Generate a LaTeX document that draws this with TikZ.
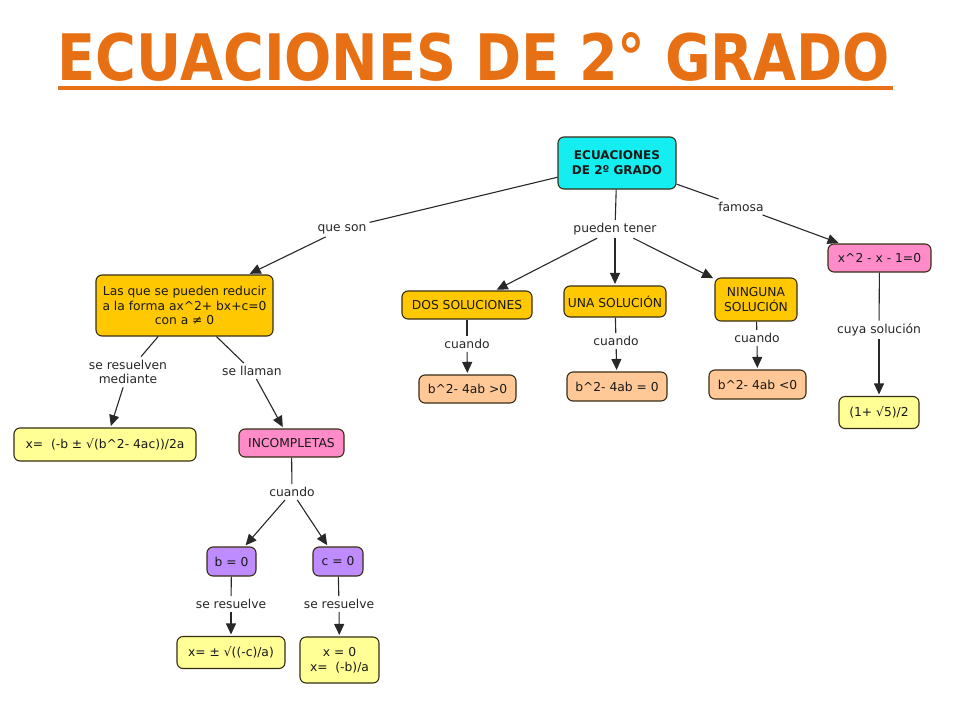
\documentclass[tikz,border=0pt]{standalone}
\usepackage{fontspec}
\setmainfont{DejaVu Sans}
\usetikzlibrary{arrows.meta}
\definecolor{ttl}{RGB}{232,112,20}
\definecolor{cyanbox}{RGB}{20,238,240}
\definecolor{goldbox}{RGB}{255,200,0}
\definecolor{yelbox}{RGB}{255,255,150}
\definecolor{pinkbox}{RGB}{255,140,200}
\definecolor{purpbox}{RGB}{190,140,255}
\definecolor{peachbox}{RGB}{255,200,150}
\definecolor{edgeclr}{RGB}{55,45,20}
\definecolor{lineclr}{RGB}{40,40,40}
\tikzset{
  box/.style={draw=edgeclr, line width=1.1pt, rounded corners=6pt, align=center,
    inner sep=0pt, font=\fontsize{12.3}{14.8}\selectfont, text=black!90},
  lbl/.style={inner sep=3pt, align=center, font=\fontsize{12.3}{14.8}\selectfont, text=black!85},
  ln/.style={draw=lineclr, line width=1.1pt},
  arr/.style={ln, -{Triangle[length=11pt,width=10pt]}, shorten >=1.5pt},
}
\begin{document}
\begin{tikzpicture}[x=1pt,y=-1pt]
\useasboundingbox (0,0) rectangle (960,720);
% title
\node[inner sep=0pt, text=ttl] (title) at (474,57)
  {\resizebox{832pt}{48pt}{\bfseries ECUACIONES DE 2° GRADO}};
\fill[ttl] (58,86) rectangle (893,90);
% boxes
\node[box, fill=cyanbox, minimum width=118pt, minimum height=52pt,
  font=\fontsize{12}{15}\selectfont\bfseries] (root) at (617,163) {ECUACIONES\\DE 2º GRADO};
\node[box, fill=goldbox, minimum width=177pt, minimum height=61pt] (las) at (184.5,305.5)
  {Las que se pueden reducir\\a la forma ax\^{}2+ bx+c=0\\con a ≠ 0};
\node[box, fill=yelbox, minimum width=182pt, minimum height=33pt] (xeq) at (105,444.5)
  {x=\ \ (-b ± √(b\^{}2- 4ac))/2a};
\node[box, fill=pinkbox, minimum width=105pt, minimum height=28pt] (inc) at (291.5,443) {INCOMPLETAS};
\node[box, fill=purpbox, minimum width=49pt, minimum height=29pt] (b0) at (231.5,561.5) {b = 0};
\node[box, fill=purpbox, minimum width=50pt, minimum height=29pt] (c0) at (338,561.5) {c = 0};
\node[box, fill=yelbox, minimum width=108pt, minimum height=32pt] (xpm) at (231,652.5) {x= ± √((-c)/a)};
\node[box, fill=yelbox, minimum width=79pt, minimum height=46pt] (x0) at (339.5,660) {x = 0\\x=\ \ (-b)/a};
\node[box, fill=goldbox, minimum width=130pt, minimum height=28pt] (dos) at (467,305) {DOS SOLUCIONES};
\node[box, fill=goldbox, minimum width=102pt, minimum height=31pt] (una) at (615,301.5) {UNA SOLUCIÓN};
\node[box, fill=goldbox, minimum width=82pt, minimum height=43pt] (nin) at (756,299.5) {NINGUNA\\SOLUCIÓN};
\node[box, fill=peachbox, minimum width=97pt, minimum height=28pt] (bg) at (467.5,389) {b\^{}2- 4ab >0};
\node[box, fill=peachbox, minimum width=100pt, minimum height=29pt] (be) at (617,386.5) {b\^{}2- 4ab = 0};
\node[box, fill=peachbox, minimum width=97pt, minimum height=29pt] (bl) at (757.5,384.5) {b\^{}2- 4ab <0};
\node[box, fill=pinkbox, minimum width=103pt, minimum height=28pt] (xsq) at (879.5,258) {x\^{}2 - x - 1=0};
\node[box, fill=yelbox, minimum width=80pt, minimum height=32pt] (phi) at (879,412.5) {(1+ √5)/2};
% labels
\node[lbl] (qs) at (342,229) {que son};
\node[lbl] (srm) at (128,372) {se resuelven\\mediante};
\node[lbl] (sll) at (252,371) {se llaman};
\node[lbl] (cu0) at (292,492) {cuando};
\node[lbl] (sr1) at (231,604) {se resuelve};
\node[lbl] (sr2) at (339,604) {se resuelve};
\node[lbl] (pt) at (615,229) {pueden tener};
\node[lbl] (cu1) at (467,344) {cuando};
\node[lbl] (cu2) at (616,341) {cuando};
\node[lbl] (cu3) at (757,338) {cuando};
\node[lbl] (fam) at (741,207) {famosa};
\node[lbl] (cs) at (879,330) {cuya solución};
% connectors
\draw[ln] (root) -- (qs);  \draw[arr] (qs) -- (las);
\draw[ln] (las) -- (srm);  \draw[arr] (srm) -- (xeq);
\draw[ln] (las) -- (sll);  \draw[arr] (sll) -- (inc);
\draw[ln] (inc) -- (cu0);  \draw[arr] (cu0) -- (b0);  \draw[arr] (cu0) -- (c0);
\draw[ln] (b0) -- (sr1);   \draw[arr] (sr1) -- (xpm);
\draw[ln] (c0) -- (sr2);   \draw[arr] (sr2) -- (x0);
\draw[ln] (root) -- (pt);
\draw[arr] (pt) -- (dos);  \draw[arr] (pt) -- (una);  \draw[arr] (pt) -- (nin);
\draw[ln] (dos) -- (cu1);  \draw[arr] (cu1) -- (bg);
\draw[ln] (una) -- (cu2);  \draw[arr] (cu2) -- (be);
\draw[ln] (nin) -- (cu3);  \draw[arr] (cu3) -- (bl);
\draw[ln] (root) -- (fam); \draw[arr] (fam) -- (xsq);
\draw[ln] (xsq) -- (cs);   \draw[arr] (cs) -- (phi);
\end{tikzpicture}
\end{document}
